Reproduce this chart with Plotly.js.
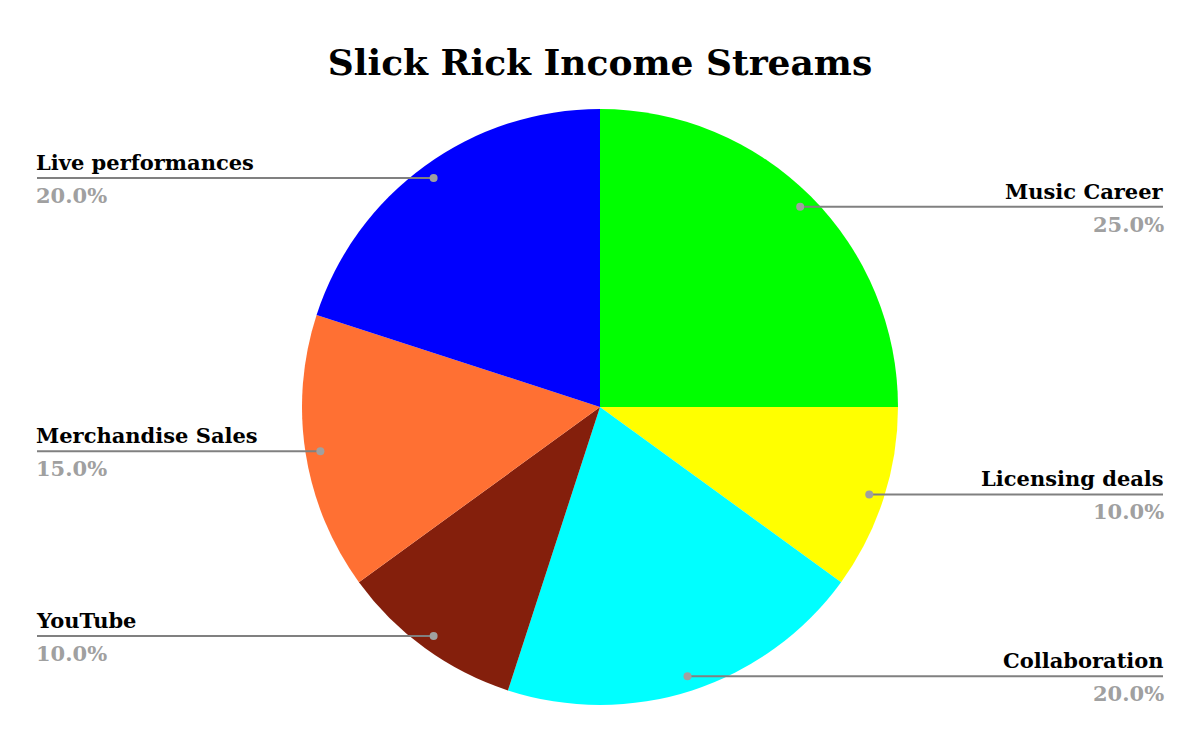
<!DOCTYPE html>
<html>
<head>
<meta charset="utf-8">
<script src="https://cdn.plot.ly/plotly-3.0.1.min.js"></script>
<style>html,body{margin:0;padding:0;background:#fff;}#chart{width:1200px;height:742px;}</style>
</head>
<body>
<div id="chart"></div>
<script>
const categories = ["Music Career", "Licensing deals", "Collaboration", "YouTube", "Merchandise Sales", "Live performances"];
const values = [25, 10, 20, 10, 15, 20];
const colors = ["#00ff00", "#ffff00", "#00ffff", "#841f0c", "#ff7033", "#0000ff"];
const titleText = "Slick Rick Income Streams";

const W = 1200, H = 742;
const cx = 600, cy = 407, R = 298;
const FONT = "DejaVu Serif, Georgia, serif";
const leftX = 37, rightX = 1163;
const dotK = 0.95;

const px = x => x / W;
const py = y => 1 - y / H;

const total = values.reduce((a, b) => a + b, 0);
const shapes = [];
const annotations = [];
let cum = 0;
values.forEach((v, i) => {
  const mid = (cum + v / 2) / total;
  cum += v;
  const th = 2 * Math.PI * mid;
  const dx = Math.sin(th) * dotK * R;
  const dy = -Math.cos(th) * dotK * R;
  const x = cx + dx, y = cy + dy;
  const right = Math.sin(th) > 0;
  const endX = right ? rightX : leftX;
  shapes.push({type: "line", xref: "paper", yref: "paper",
    x0: px(x), y0: py(y), x1: px(endX), y1: py(y),
    line: {color: "#808080", width: 2}});
  shapes.push({type: "circle", xref: "paper", yref: "paper",
    x0: px(x - 4), x1: px(x + 4), y0: py(y - 4), y1: py(y + 4),
    fillcolor: "#a0a0a0", line: {width: 0}});
  const pct = (100 * v / total).toFixed(1) + "%";
  const xs = right ? 3 : -3;
  annotations.push({xref: "paper", yref: "paper", x: px(endX), y: py(y - 1),
    xanchor: right ? "right" : "left", yanchor: "bottom", showarrow: false, xshift: xs,
    text: "<b>" + categories[i] + "</b>", font: {family: FONT, size: 21, color: "#000"}});
  annotations.push({xref: "paper", yref: "paper", x: px(endX), y: py(y + 3),
    xanchor: right ? "right" : "left", yanchor: "top", showarrow: false, xshift: xs,
    text: "<b>" + pct + "</b>", font: {family: FONT, size: 21, color: "#a0a0a0"}});
});

const data = [{
  type: "pie",
  labels: categories,
  values: values,
  sort: false,
  direction: "clockwise",
  rotation: 0,
  marker: {colors: colors, line: {width: 0}},
  textinfo: "none",
  hoverinfo: "label+percent",
  domain: {x: [px(cx - R), px(cx + R)], y: [py(cy + R), py(cy - R)]},
  showlegend: false
}];

const layout = {
  width: W, height: H,
  margin: {l: 0, r: 0, t: 0, b: 0},
  paper_bgcolor: "#fff",
  title: {text: "<b>" + titleText + "</b>", x: 0.5, xanchor: "center", y: py(62), yanchor: "middle",
    font: {family: FONT, size: 36, color: "#000"}},
  shapes: shapes,
  annotations: annotations,
  showlegend: false
};

Plotly.newPlot("chart", data, layout, {displayModeBar: false, staticPlot: true});
</script>
</body>
</html>
